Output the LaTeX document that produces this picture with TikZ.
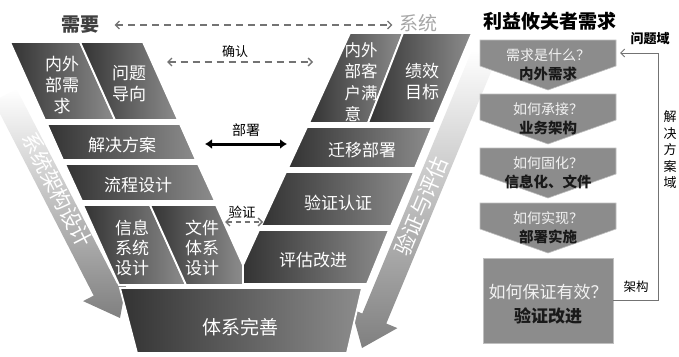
\documentclass[tikz,border=0pt]{standalone}
\usepackage{fontspec}
\setmainfont{Noto Sans CJK SC}
\usepackage{tikz}
\usetikzlibrary{arrows.meta,positioning}
\tikzset{
	blk/.style={draw=white,line width=1.8pt,left color=black!80,right color=black!45},
	btxt/.style={text=white,font=\fontsize{17}{21}\selectfont,align=center},
	band/.style={top color=white,bottom color=black!50,middle color=black!25},
	dsh/.style={draw=black!55,line width=1.3pt,dash pattern=on 7pt off 5pt,{Straight Barb[length=4pt,width=8pt]}-{Straight Barb[length=4pt,width=8pt]}},
	pent/.style={fill=black!45,draw=black!25,line width=0.6pt},
	qtxt/.style={text=black!5,font=\fontsize{14}{14}\selectfont},
	atxt/.style={text=black!90,font=\bfseries\fontsize{14.5}{14.5}\selectfont},
	fb/.style={draw=black!55,line width=1pt,-{Straight Barb[length=4pt,width=8pt]}}
}
\begin{document}
\begin{tikzpicture}[x=1pt,y=-1pt]
	\useasboundingbox (0,0) rectangle (679,356);
	% arrows behind the V
	\path[band] (-6.6,101)--(16.6,89)--(116.9,283.6)--(127.5,278.1)--(120,318)--(83.1,301.1)--(93.7,295.6)--cycle;
	\path[band] (472,50)--(496,60)--(386.3,323.5)--(397.4,328.1)--(362,348)--(351.2,308.9)--(362.3,313.5)--cycle;
	\node[rotate=-62.7,text=white,font=\fontsize{21}{21}\selectfont] (lband) at (57,190) {系统架构设计};
	\node[rotate=67.4,text=white,font=\fontsize{21}{21}\selectfont] (rband) at (421,206) {验证与评估};
	% left arm
	\path[blk] (10,42)--(80,42)--(115,120)--(45,120)--cycle;
	\path[blk] (80,42)--(143,42)--(178,120)--(115,120)--cycle;
	\path[blk] (47,124)--(180,124)--(196,160)--(63,160)--cycle;
	\path[blk] (65,164)--(198,164)--(215,201)--(82,201)--cycle;
	\path[blk] (83,205)--(150,205)--(186,285)--(119,285)--cycle;
	\path[blk] (150,205)--(216,205)--(243,265)--(243,285)--(186,285)--cycle;
	% right arm
	\path[blk] (350,33)--(403,33)--(368,123)--(309,123)--cycle;
	\path[blk] (403,33)--(472,33)--(434,123)--(368,123)--cycle;
	\path[blk] (307,127)--(432,127)--(415,168)--(288,168)--cycle;
	\path[blk] (286,172)--(414,172)--(391,226)--(261,226)--cycle;
	\path[blk] (259,230)--(389,230)--(367,284)--(243,284)--(243,265)--cycle;
	\path[blk] (120,288)--(362,288)--(347,353)--(137,353)--cycle;
	\node[btxt] (nwxq) at (62,85) {内外\\部需\\求};
	\node[btxt] (wtdx) at (129,84) {问题\\导向};
	\node[btxt] (jjfa) at (122,145) {解决方案};
	\node[btxt] (lcsj) at (138,185) {流程设计};
	\node[btxt,font=\fontsize{17}{20}\selectfont] (xxsj) at (132,248) {信息\\系统\\设计};
	\node[btxt,font=\fontsize{17}{20}\selectfont] (wjsj) at (202,248) {文件\\体系\\设计};
	\node[btxt,align=left,font=\fontsize{16.5}{21.5}\selectfont] (khmy) at (361,82) {内外\\部客\\户满\\意};
	\node[btxt] (jxmb) at (422,82) {绩效\\目标};
	\node[btxt] (qybs) at (362,150) {迁移部署};
	\node[btxt] (yzrz) at (338,203) {验证认证};
	\node[btxt] (pggj) at (313,260) {评估改进};
	\node[btxt,font=\fontsize{19}{19}\selectfont] (txws) at (240,327) {体系完善};
	% labels across the V
	\node[font=\bfseries\fontsize{19}{19}\selectfont,text=black!75] (need) at (80,25) {需要};
	\node[font=\fontsize{19}{19}\selectfont,text=black!35] (sys) at (418,23) {系统};
	\draw[dsh,shorten <=12pt,shorten >=3pt] (need.east) -- (need.east -| sys.west);
	\node[font=\fontsize{13}{13}\selectfont] (conf) at (235,52) {确认};
	\coordinate (c1) at (167,62);
	\coordinate (c2) at (313,62);
	\draw[dsh] (c1) -- (c2);
	\node[font=\fontsize{14}{14}\selectfont] (depl) at (246,130) {部署};
	\coordinate (d1) at (205,144);
	\coordinate (d2) at (287,144);
	\draw[line width=3pt,{Latex[length=7pt,width=10pt]}-{Latex[length=7pt,width=10pt]}] (d1) -- (d2);
	\node[font=\fontsize{13.5}{13.5}\selectfont] (vrfy) at (242,212) {验证};
	\coordinate (v1) at (225,222);
	\coordinate (v2) at (263,222);
	\draw[dsh,dash pattern=on 5pt off 4pt] (v1) -- (v2);
	% right panel
	\node[font=\bfseries\fontsize{19}{19}\selectfont] (title) at (550,21) {利益攸关者需求};
	\foreach \i/\t/\q/\a in {1/40/需求是什么？/内外需求,2/94/如何承接？/业务架构,3/148/如何固化？/信息化、文件,4/203/如何实现？/部署实施}{
		\path[pent] (480,\t)--(616,\t)--(616,\t+26)--(548,\t+50)--(480,\t+26)--cycle;
		\node[qtxt] (q\i) at (548,\t+15) {\q};
		\node[atxt] (a\i) at (548,\t+34) {\a};
	}
	\node[pent,minimum width=130pt,minimum height=85pt] (b5) at (548,300.5) {};
	\node[qtxt,font=\fontsize{17}{17}\selectfont] (q5) at (548,292) {如何保证有效？};
	\node[atxt,font=\bfseries\fontsize{17}{17}\selectfont] (a5) at (548,316) {验证改进};
	\coordinate (p1) at (620,53);
	\draw[fb] (b5.east) -- ++(45,0) |- (p1);
	\node[font=\bfseries\fontsize{13}{13}\selectfont] (pdom) at (650,39) {问题域};
	\node[font=\fontsize{12.5}{12.5}\selectfont] (arch) at (636,287) {架构};
	\node[align=center,font=\fontsize{13}{16.5}\selectfont] (sdom) at (670,150) {解\\决\\方\\案\\域};
\end{tikzpicture}
\end{document}
